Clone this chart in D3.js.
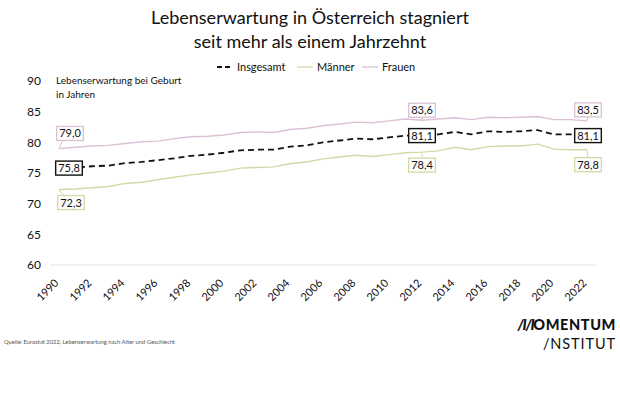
<!DOCTYPE html>
<html><head><meta charset="utf-8">
<script src="https://cdn.jsdelivr.net/npm/d3@7"></script>
<style>body{margin:0;background:#fff}svg{display:block}text{font-family:Lato,"Noto Sans",sans-serif}</style>
</head><body>
<svg id="c" width="620" height="413"></svg>
<script>
const years = d3.range(1990, 2023);
const tickYears = d3.range(1990, 2023, 2);
const yTicks = [60, 65, 70, 75, 80, 85, 90];
const insgesamt = [75.8,75.9,76.1,76.2,76.6,76.8,77.1,77.4,77.8,78.0,78.3,78.7,78.8,78.8,79.3,79.5,80.0,80.3,80.6,80.5,80.8,81.1,81.1,81.3,81.7,81.3,81.8,81.7,81.8,82.0,81.3,81.3,81.1];
const maenner = [72.3,72.4,72.6,72.8,73.3,73.5,73.9,74.3,74.7,75.0,75.3,75.8,75.9,76.0,76.5,76.8,77.3,77.6,77.9,77.7,78.0,78.3,78.4,78.6,79.2,78.8,79.3,79.4,79.4,79.7,78.9,78.8,78.8];
const frauen = [79.0,79.2,79.4,79.5,79.8,80.1,80.2,80.6,80.9,81.0,81.2,81.6,81.7,81.6,82.1,82.3,82.7,83.0,83.3,83.2,83.5,83.8,83.6,83.8,84.0,83.7,84.1,84.0,84.1,84.2,83.7,83.7,83.5];
const seriesNames = ["Insgesamt", "Männer", "Frauen"];

const colors = {"Insgesamt":"#111111","Männer":"#d2d9a6","Frauen":"#dcc0d6"};
const seriesData = {"Insgesamt":insgesamt,"Männer":maenner,"Frauen":frauen};

const svg = d3.select("#c");
const x = d3.scaleLinear().domain([1990, 2022]).range([59, 587]);
const y = d3.scaleLinear().domain([60, 90]).range([265, 81]);

// title
svg.append("text").attr("x",310).attr("y",24).attr("text-anchor","middle").attr("font-size",18).attr("fill","#111").text("Lebenserwartung in Österreich stagniert");
svg.append("text").attr("x",310).attr("y",48).attr("text-anchor","middle").attr("font-size",18).attr("fill","#111").text("seit mehr als einem Jahrzehnt");

// legend
const legX = [217, 297, 362];
seriesNames.forEach((n,i)=>{
  const g = svg.append("g").attr("transform",`translate(${legX[i]},67)`);
  g.append("line").attr("x1",0).attr("x2",16).attr("y1",0).attr("y2",0)
    .attr("stroke",colors[n]).attr("stroke-width", n==="Insgesamt"?1.8:1.3)
    .attr("stroke-dasharray", n==="Insgesamt"?"5,3":null);
  g.append("text").attr("x",20).attr("y",4).attr("font-size",11).attr("fill","#111").text(n);
});

// y axis title
svg.append("text").attr("x",56).attr("y",84).attr("font-size",10).attr("fill","#111").text("Lebenserwartung bei Geburt");
svg.append("text").attr("x",56).attr("y",98).attr("font-size",10).attr("fill","#111").text("in Jahren");

// y axis
const yAxis = svg.append("g").attr("transform","translate(41,0)")
  .call(d3.axisLeft(y).tickValues(yTicks).tickSize(0).tickPadding(0));
yAxis.select(".domain").remove();
yAxis.selectAll("text").attr("font-size",12).attr("fill","#111").attr("font-family","Lato,'Noto Sans',sans-serif");

// baseline grid
svg.append("line").attr("x1",50).attr("x2",596).attr("y1",y(60)).attr("y2",y(60)).attr("stroke","#e2e2e2").attr("stroke-width",1);

// x axis
const xAxis = svg.append("g").attr("transform",`translate(0,${y(60)+8})`)
  .call(d3.axisBottom(x).tickValues(tickYears).tickFormat(d3.format("d")).tickSize(0).tickPadding(0));
xAxis.select(".domain").remove();
xAxis.selectAll("text").attr("font-size",11).attr("fill","#111").attr("font-family","Lato,'Noto Sans',sans-serif")
  .attr("text-anchor","end").attr("dy","0.35em").attr("transform","translate(-3,8) rotate(-45)");

// lines
const line = d3.line().x((d,i)=>x(years[i])).y(d=>y(d));
["Frauen","Männer","Insgesamt"].forEach(n=>{
  svg.append("path").datum(seriesData[n]).attr("d",line).attr("fill","none")
    .attr("stroke",colors[n]).attr("stroke-width", n==="Insgesamt"?1.8:1.4)
    .attr("stroke-dasharray", n==="Insgesamt"?"6,4":null);
});

// value labels
const fmt = v => d3.format(".1f")(v).replace(".", ",");
function label(n, yr, bx, by, pointer) {
  const v = seriesData[n][years.indexOf(yr)];
  const px = x(yr), py = y(v);
  const cx = px + bx, cy = py + by;
  const g = svg.append("g");
  const t = g.append("text").attr("x",cx).attr("y",cy+4).attr("text-anchor","middle").attr("font-size",11).attr("fill","#111").text(fmt(v));
  const w = t.node().getComputedTextLength() + 5, h = 14;
  if (pointer) {
    const tx = pointer === "diag" ? cx - w/2 + 6 : cx;
    const ty = cy > py ? cy - h/2 : cy + h/2;
    g.insert("line","text").attr("x1",px).attr("y1",py).attr("x2",tx).attr("y2",ty).attr("stroke",colors[n]).attr("stroke-width",1);
  }
  g.insert("rect","text").attr("x",cx-w/2).attr("y",cy-h/2).attr("width",w).attr("height",h)
    .attr("fill","#fff").attr("stroke",colors[n]).attr("stroke-width", n==="Insgesamt"?1.4:1.3);
}
label("Frauen", 1990, 11, -15, "diag");
label("Insgesamt", 1990, 10, 0, null);
label("Männer", 1990, 12, 13, "diag");
label("Frauen", 2012, 0, -10, "v");
label("Insgesamt", 2012, 0, 0, null);
label("Männer", 2012, 0, 13, "v");
label("Frauen", 2022, 1, -11, "v");
label("Insgesamt", 2022, 1, 0, null);
label("Männer", 2022, 1, 15, "v");

// footer
svg.append("text").attr("x",4).attr("y",344).attr("font-size",5.8).attr("fill","#555").text("Quelle: Eurostat 2022, Lebenserwartung nach Alter und Geschlecht");
const logo1 = svg.append("text").attr("x",616).attr("y",330).attr("text-anchor","end").attr("font-size",14.5).attr("font-weight","900").attr("fill","#111");
logo1.append("tspan").attr("letter-spacing",-1.3).attr("font-style","italic").text("/I/I");
logo1.append("tspan").attr("letter-spacing",0.6).text("OMENTUM");
svg.append("text").attr("x",616).attr("y",349).attr("text-anchor","end").attr("font-size",14.5).attr("fill","#111").attr("letter-spacing",0.9).text("/NSTITUT");
</script>
</body></html>
